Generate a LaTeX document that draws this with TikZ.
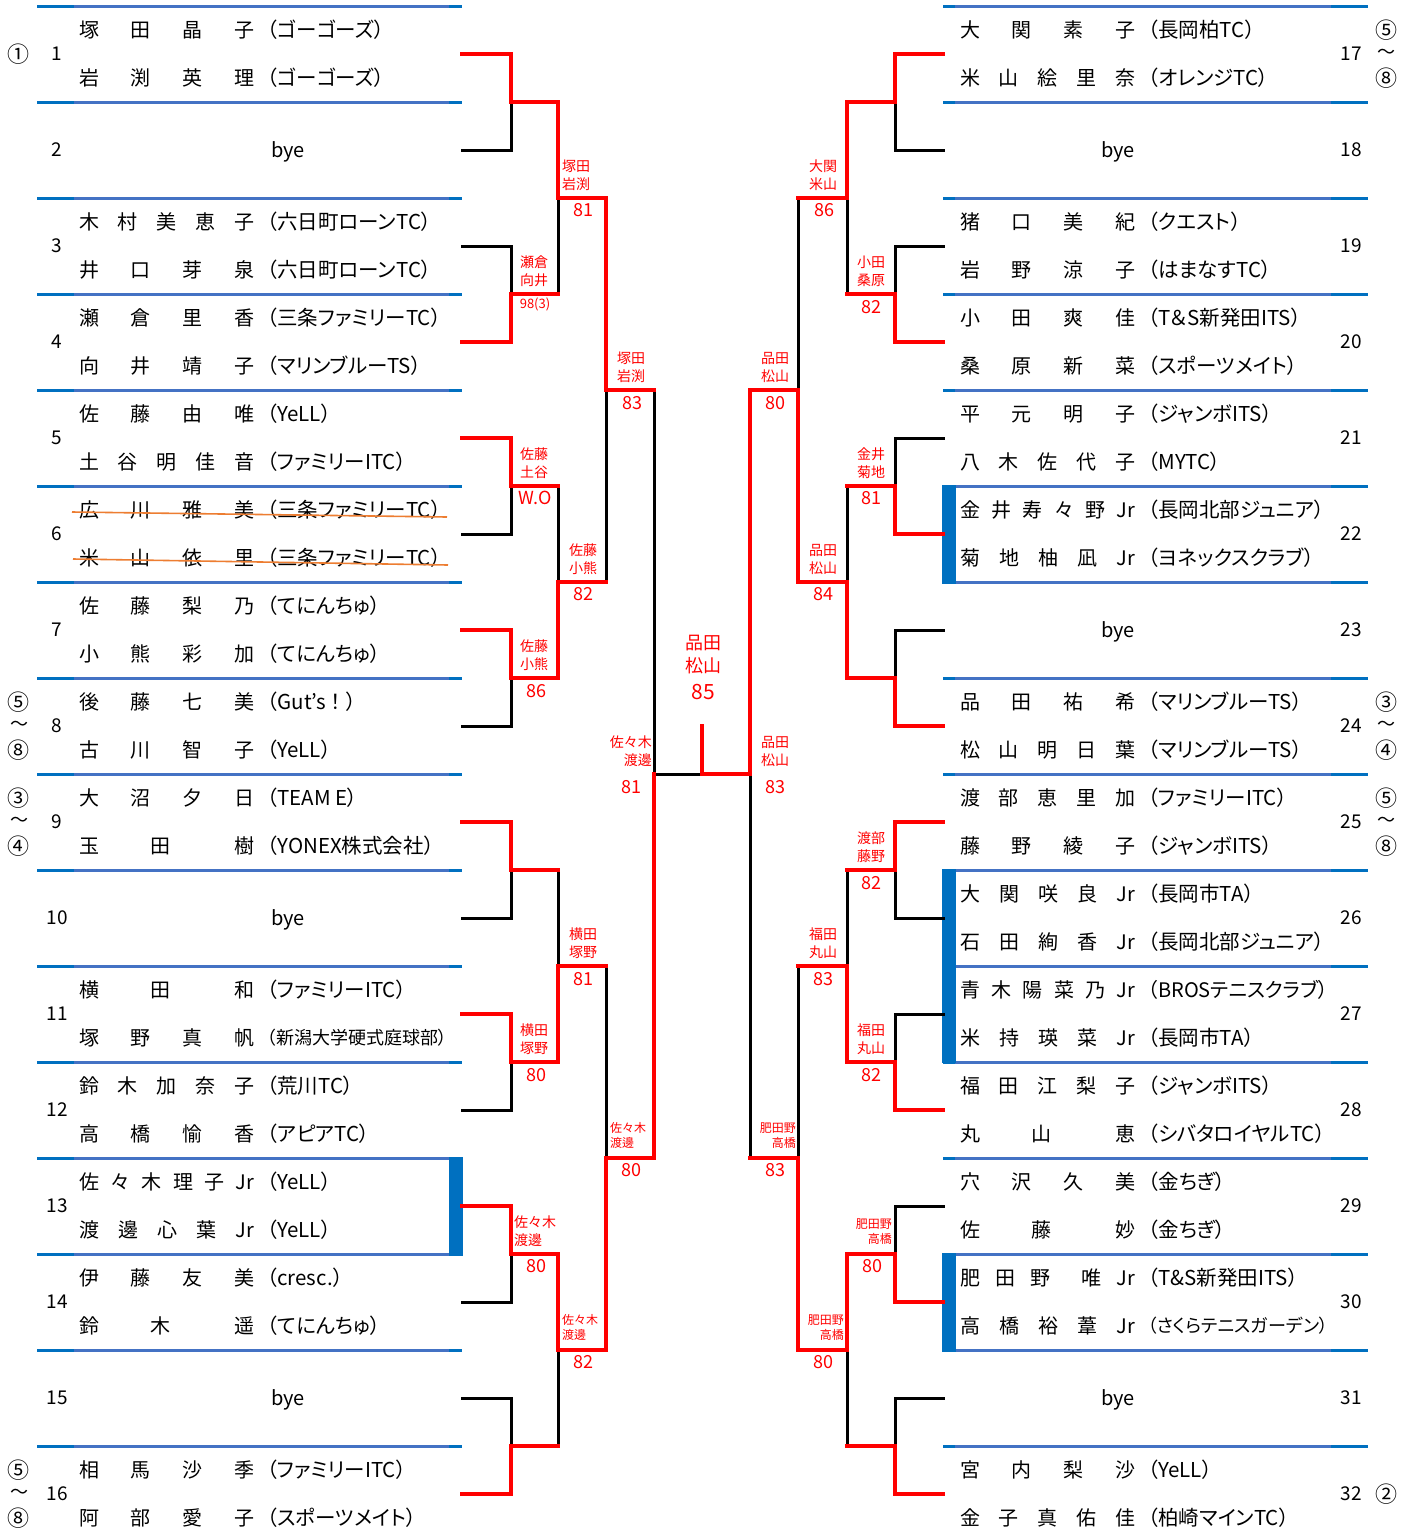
\documentclass[tikz,border=0pt]{standalone}
\usepackage{fontspec}
\usepackage{graphicx}
\setmainfont{Noto Sans CJK JP}
\newfontfamily\teamfont[RawFeature=+palt]{Noto Sans CJK JP}
\definecolor{cmid}{HTML}{4472C4}
\definecolor{cdark}{HTML}{0070C0}
\definecolor{corange}{HTML}{ED7D31}
\newsavebox\tmbox
\newcommand\tm[1]{\sbox\tmbox{\teamfont\fontsize{20.5}{22}\selectfont #1}\ifdim\wd\tmbox>180pt\resizebox{180pt}{!}{\usebox\tmbox}\else\usebox\tmbox\fi}
\def\distx#1 #2\end{#1\ifx\relax#2\relax\else\hfill\distx#2\end\fi}
\newcommand\dist[1]{\makebox[175pt][s]{\distx#1 \end}}
\newcommand\three[3]{\makebox[175pt][s]{#1\hfill\hspace{-12pt}#2\hfill #3}}
\newcommand\Lent[6]{%
 \node[num] (n#1) at (57,#2) {#1};
 \node[nm] (a#1) at (79,#2-24) {#3};
 \node[nm] (t#1) at (267,#2-24) {\tm{#4}};
 \node[nm] (b#1) at (79,#2+24) {#5};
 \node[nm] (u#1) at (267,#2+24) {\tm{#6}};}
\newcommand\Rent[6]{%
 \node[num] (n#1) at (1351,#2) {#1};
 \node[nm] (a#1) at (960,#2-24) {#3};
 \node[nm] (t#1) at (1148,#2-24) {\tm{#4}};
 \node[nm] (b#1) at (960,#2+24) {#5};
 \node[nm] (u#1) at (1148,#2+24) {\tm{#6}};}
\newcommand\Lbye[2]{\node[num] (n#1) at (57,#2) {#1}; \node[byest] (y#1) at (288,#2+1.5) {bye};}
\newcommand\Rbye[2]{\node[num] (n#1) at (1351,#2) {#1}; \node[byest] (y#1) at (1118,#2+1.5) {bye};}
\newcommand\lab[6][center]{\node[lbl,anchor=#1] (#2a) at (#3,#4-32) {#5}; \node[lbl,anchor=#1] (#2b) at (#3,#4-14) {#6};}
\newcommand\slab[6][center]{\node[slbl,anchor=#1] (#2a) at (#3,#4-30) {#5}; \node[slbl,anchor=#1] (#2b) at (#3,#4-15) {#6};}
\begin{document}
\begin{tikzpicture}[x=1pt,y=-1pt,
  nm/.style={anchor=west,inner sep=0pt,font=\fontsize{20}{22}\selectfont},
  num/.style={inner sep=0pt,font=\fontsize{19}{21}\selectfont},
  byest/.style={inner sep=0pt,font=\fontsize{20}{22}\selectfont},
  circ/.style={inner sep=0pt,font=\fontsize{22}{23}\selectfont},
  tilde/.style={inner sep=0pt,font=\fontsize{18}{19}\selectfont},
  lbl/.style={inner sep=0pt,text=red,font=\fontsize{14}{15}\selectfont},
  slbl/.style={inner sep=0pt,text=red,font=\fontsize{12}{13}\selectfont},
  scr/.style={inner sep=0pt,text=red,font=\fontsize{18}{19}\selectfont},
  blk/.style={line width=3pt,black,line cap=rect},
  win/.style={line width=4.5pt,red,line cap=rect,line join=miter},
  ebar/.style={line width=3pt,draw=cmid},
  eend/.style={line width=3pt,draw=cdark},
  strike/.style={line width=1.6pt,draw=corange}]
\fill[white] (0,0) rectangle (1414,1540);
\useasboundingbox (0,0) rectangle (1414,1540);
% entry rules
\foreach \yy in {6,102,...,1446}{
  \draw[ebar] (74,\yy) -- (449,\yy);
  \draw[eend] (37,\yy) -- (74,\yy);
  \draw[eend] (449,\yy) -- (462,\yy);
  \draw[ebar] (955,\yy) -- (1331,\yy);
  \draw[eend] (943,\yy) -- (955,\yy);
  \draw[eend] (1331,\yy) -- (1368,\yy);
}
% Jr bars
\fill[cdark] (449,1157) rectangle (463,1256);
\fill[cdark] (942,485) rectangle (956,584);
\fill[cdark] (942,869) rectangle (956,1063);
\fill[cdark] (942,1253) rectangle (956,1352);
% black bracket
\foreach \c in {54,150,...,1494}{\draw[blk] (462,\c)--(511,\c); \draw[blk] (943,\c)--(895,\c);}
\foreach \c in {54,246,...,1398}{\draw[blk] (511,\c)--(511,\c+96); \draw[blk] (895,\c)--(895,\c+96);}
\foreach \m in {102,294,...,1446}{\draw[blk] (511,\m)--(558,\m); \draw[blk] (895,\m)--(847,\m);}
\foreach \m in {102,486,870,1254}{\draw[blk] (558,\m)--(558,\m+192); \draw[blk] (847,\m)--(847,\m+192);}
\foreach \m in {198,582,966,1350}{\draw[blk] (558,\m)--(606,\m); \draw[blk] (847,\m)--(798,\m);}
\foreach \m in {198,966}{\draw[blk] (606,\m)--(606,\m+384); \draw[blk] (798,\m)--(798,\m+384);}
\foreach \m in {390,1158}{\draw[blk] (606,\m)--(654,\m); \draw[blk] (798,\m)--(750,\m);}
\draw[blk] (654,390)--(654,1158);
\draw[blk] (750,390)--(750,1158);
\draw[blk] (654,774)--(750,774);
% red winner paths
\draw[win] (462,54)--(511,54)--(511,102)--(558,102)--(558,198)--(606,198)--(606,390)--(654,390);
\draw[win] (462,342)--(511,342)--(511,294)--(558,294);
\draw[win] (462,438)--(511,438)--(511,486)--(558,486);
\draw[win] (462,630)--(511,630)--(511,678)--(558,678)--(558,582)--(606,582);
\draw[win] (462,822)--(511,822)--(511,870)--(558,870);
\draw[win] (462,1014)--(511,1014)--(511,1062)--(558,1062)--(558,966)--(606,966);
\draw[win] (462,1206)--(511,1206)--(511,1254)--(558,1254)--(558,1350)--(606,1350)--(606,1158)--(654,1158)--(654,774);
\draw[win] (462,1494)--(511,1494)--(511,1446)--(558,1446);
\draw[win] (943,54)--(895,54)--(895,102)--(847,102)--(847,198)--(798,198);
\draw[win] (943,342)--(895,342)--(895,294)--(847,294);
\draw[win] (943,534)--(895,534)--(895,486)--(847,486);
\draw[win] (943,726)--(895,726)--(895,678)--(847,678)--(847,582)--(798,582)--(798,390)--(750,390)--(750,774)--(702,774)--(702,726);
\draw[win] (943,822)--(895,822)--(895,870)--(847,870);
\draw[win] (943,1110)--(895,1110)--(895,1062)--(847,1062)--(847,966)--(798,966);
\draw[win] (943,1302)--(895,1302)--(895,1254)--(847,1254)--(847,1350)--(798,1350)--(798,1158)--(750,1158);
\draw[win] (943,1494)--(895,1494)--(895,1446)--(847,1446);
% left entries
\Lent{1}{54}{\dist{塚 田 晶 子}}{（ゴーゴーズ）}{\dist{岩 渕 英 理}}{（ゴーゴーズ）}
\Lbye{2}{150}
\Lent{3}{246}{\dist{木 村 美 恵 子}}{（六日町ローンTC）}{\dist{井 口 芽 泉}}{（六日町ローンTC）}
\Lent{4}{342}{\dist{瀬 倉 里 香}}{（三条ファミリーTC）}{\dist{向 井 靖 子}}{（マリンブルーTS）}
\Lent{5}{438}{\dist{佐 藤 由 唯}}{（YeLL）}{\dist{土 谷 明 佳 音}}{（ファミリーITC）}
\Lent{6}{534}{\dist{広 川 雅 美}}{（三条ファミリーTC）}{\dist{米 山 依 里}}{（三条ファミリーTC）}
\Lent{7}{630}{\dist{佐 藤 梨 乃}}{（てにんちゅ）}{\dist{小 熊 彩 加}}{（てにんちゅ）}
\Lent{8}{726}{\dist{後 藤 七 美}}{（Gut’s\makebox[20pt]{！}）}{\dist{古 川 智 子}}{（YeLL）}
\Lent{9}{822}{\dist{大 沼 夕 日}}{（TEAM E）}{\three{玉}{田}{樹}}{（YONEX株式会社）}
\Lbye{10}{918}
\Lent{11}{1014}{\three{横}{田}{和}}{（ファミリーITC）}{\dist{塚 野 真 帆}}{（新潟大学硬式庭球部）}
\Lent{12}{1110}{\dist{鈴 木 加 奈 子}}{（荒川TC）}{\dist{高 橋 愉 香}}{（アピアTC）}
\Lent{13}{1206}{\dist{佐 々 木 理 子 Jr}}{（YeLL）}{\dist{渡 邊 心 葉 Jr}}{（YeLL）}
\Lent{14}{1302}{\dist{伊 藤 友 美}}{（cresc.）}{\three{鈴}{木}{遥}}{（てにんちゅ）}
\Lbye{15}{1398}
\Lent{16}{1494}{\dist{相 馬 沙 季}}{（ファミリーITC）}{\dist{阿 部 愛 子}}{（スポーツメイト）}
% right entries
\Rent{17}{54}{\dist{大 関 素 子}}{（長岡柏TC）}{\dist{米 山 絵 里 奈}}{（オレンジTC）}
\Rbye{18}{150}
\Rent{19}{246}{\dist{猪 口 美 紀}}{（クエスト）}{\dist{岩 野 涼 子}}{（はまなすTC）}
\Rent{20}{342}{\dist{小 田 爽 佳}}{（T＆S新発田ITS）}{\dist{桑 原 新 菜}}{（スポーツメイト）}
\Rent{21}{438}{\dist{平 元 明 子}}{（ジャンボITS）}{\dist{八 木 佐 代 子}}{（MYTC）}
\Rent{22}{534}{\dist{金 井 寿 々 野 Jr}}{（長岡北部ジュニア）}{\dist{菊 地 柚 凪 Jr}}{（ヨネックスクラブ）}
\Rbye{23}{630}
\Rent{24}{726}{\dist{品 田 祐 希}}{（マリンブルーTS）}{\dist{松 山 明 日 葉}}{（マリンブルーTS）}
\Rent{25}{822}{\dist{渡 部 恵 里 加}}{（ファミリーITC）}{\dist{藤 野 綾 子}}{（ジャンボITS）}
\Rent{26}{918}{\dist{大 関 咲 良 Jr}}{（長岡市TA）}{\dist{石 田 絢 香 Jr}}{（長岡北部ジュニア）}
\Rent{27}{1014}{\dist{青 木 陽 菜 乃 Jr}}{（BROSテニスクラブ）}{\dist{米 持 瑛 菜 Jr}}{（長岡市TA）}
\Rent{28}{1110}{\dist{福 田 江 梨 子}}{（ジャンボITS）}{\three{丸}{山}{恵}}{（シバタロイヤルTC）}
\Rent{29}{1206}{\dist{穴 沢 久 美}}{（金ちぎ）}{\three{佐}{藤}{妙}}{（金ちぎ）}
\Rent{30}{1302}{\makebox[175pt][s]{肥\hfill 田\hfill 野\hfill\hfill 唯\hfill Jr}}{（T\&S新発田ITS）}{\dist{高 橋 裕 葦 Jr}}{（さくらテニスガーデン）}
\Rbye{31}{1398}
\Rent{32}{1494}{\dist{宮 内 梨 沙}}{（YeLL）}{\dist{金 子 真 佑 佳}}{（柏崎マインTC）}
% strike-through of entry 6
\draw[strike] (72,512) -- (447,517);
\draw[strike] (73,559) -- (448,565);
% seeds
\node[circ] (c1) at (19,54) {①};
\node[circ] (c8a) at (19,702) {⑤}; \node[tilde] (c8b) at (19,726) {～}; \node[circ] (c8c) at (19,750) {⑧};
\node[circ] (c9a) at (19,798) {③}; \node[tilde] (c9b) at (19,822) {～}; \node[circ] (c9c) at (19,846) {④};
\node[circ] (c16a) at (19,1470) {⑤}; \node[tilde] (c16b) at (19,1494) {～}; \node[circ] (c16c) at (19,1518) {⑧};
\node[circ] (c17a) at (1386,30) {⑤}; \node[tilde] (c17b) at (1386,54) {～}; \node[circ] (c17c) at (1386,78) {⑧};
\node[circ] (c24a) at (1386,702) {③}; \node[tilde] (c24b) at (1386,726) {～}; \node[circ] (c24c) at (1386,750) {④};
\node[circ] (c25a) at (1386,798) {⑤}; \node[tilde] (c25b) at (1386,822) {～}; \node[circ] (c25c) at (1386,846) {⑧};
\node[circ] (c32) at (1386,1494) {②};
% match labels left
\lab{l1}{534}{294}{瀬倉}{向井} \node[scr,font=\fontsize{13}{14}\selectfont] (sl1) at (535,304) {98(3)};
\lab{l2}{534}{486}{佐藤}{土谷} \node[scr] (sl2) at (535,498) {W.O};
\lab{l3}{534}{678}{佐藤}{小熊} \node[scr] (sl3) at (536,691) {86};
\lab{l4}{534}{1062}{横田}{塚野} \node[scr] (sl4) at (536,1075) {80};
\lab[west]{l5}{514}{1254}{佐々木}{渡邊} \node[scr] (sl5) at (536,1266) {80};
\lab{l6}{576}{198}{塚田}{岩渕} \node[scr] (sl6) at (583,210) {81};
\lab{l7}{583}{582}{佐藤}{小熊} \node[scr] (sl7) at (583,594) {82};
\lab{l8}{583}{966}{横田}{塚野} \node[scr] (sl8) at (583,979) {81};
\slab[west]{l9}{562}{1350}{佐々木}{渡邊} \node[scr] (sl9) at (583,1362) {82};
\lab{l10}{631}{390}{塚田}{岩渕} \node[scr] (sl10) at (632,403) {83};
\slab[west]{l11}{610}{1158}{佐々木}{渡邊} \node[scr] (sl11) at (631,1170) {80};
\lab[east]{l12}{652}{774}{佐々木}{渡邊} \node[scr] (sl12) at (631,787) {81};
% match labels right
\lab{r1}{871}{294}{小田}{桑原} \node[scr] (sr1) at (871,307) {82};
\lab{r2}{871}{486}{金井}{菊地} \node[scr] (sr2) at (871,498) {81};
\lab{r3}{871}{870}{渡部}{藤野} \node[scr] (sr3) at (871,883) {82};
\lab{r4}{871}{1062}{福田}{丸山} \node[scr] (sr4) at (871,1075) {82};
\slab[east]{r5}{892}{1254}{肥田野}{高橋} \node[scr] (sr5) at (872,1266) {80};
\lab{r6}{823}{198}{大関}{米山} \node[scr] (sr6) at (824,210) {86};
\lab{r7}{823}{582}{品田}{松山} \node[scr] (sr7) at (823,594) {84};
\lab{r8}{823}{966}{福田}{丸山} \node[scr] (sr8) at (823,979) {83};
\slab[east]{r9}{844}{1350}{肥田野}{高橋} \node[scr] (sr9) at (823,1362) {80};
\lab{r10}{775}{390}{品田}{松山} \node[scr] (sr10) at (775,403) {80};
\slab[east]{r11}{796}{1158}{肥田野}{高橋} \node[scr] (sr11) at (775,1170) {83};
\lab{r12}{775}{774}{品田}{松山} \node[scr] (sr12) at (775,787) {83};
% final
\node[lbl,font=\fontsize{18}{19}\selectfont] (fa) at (703,643) {品田};
\node[lbl,font=\fontsize{18}{19}\selectfont] (fb) at (703,666) {松山};
\node[scr,font=\fontsize{21}{22}\selectfont] (fs) at (703,692) {85};
\end{tikzpicture}
\end{document}
